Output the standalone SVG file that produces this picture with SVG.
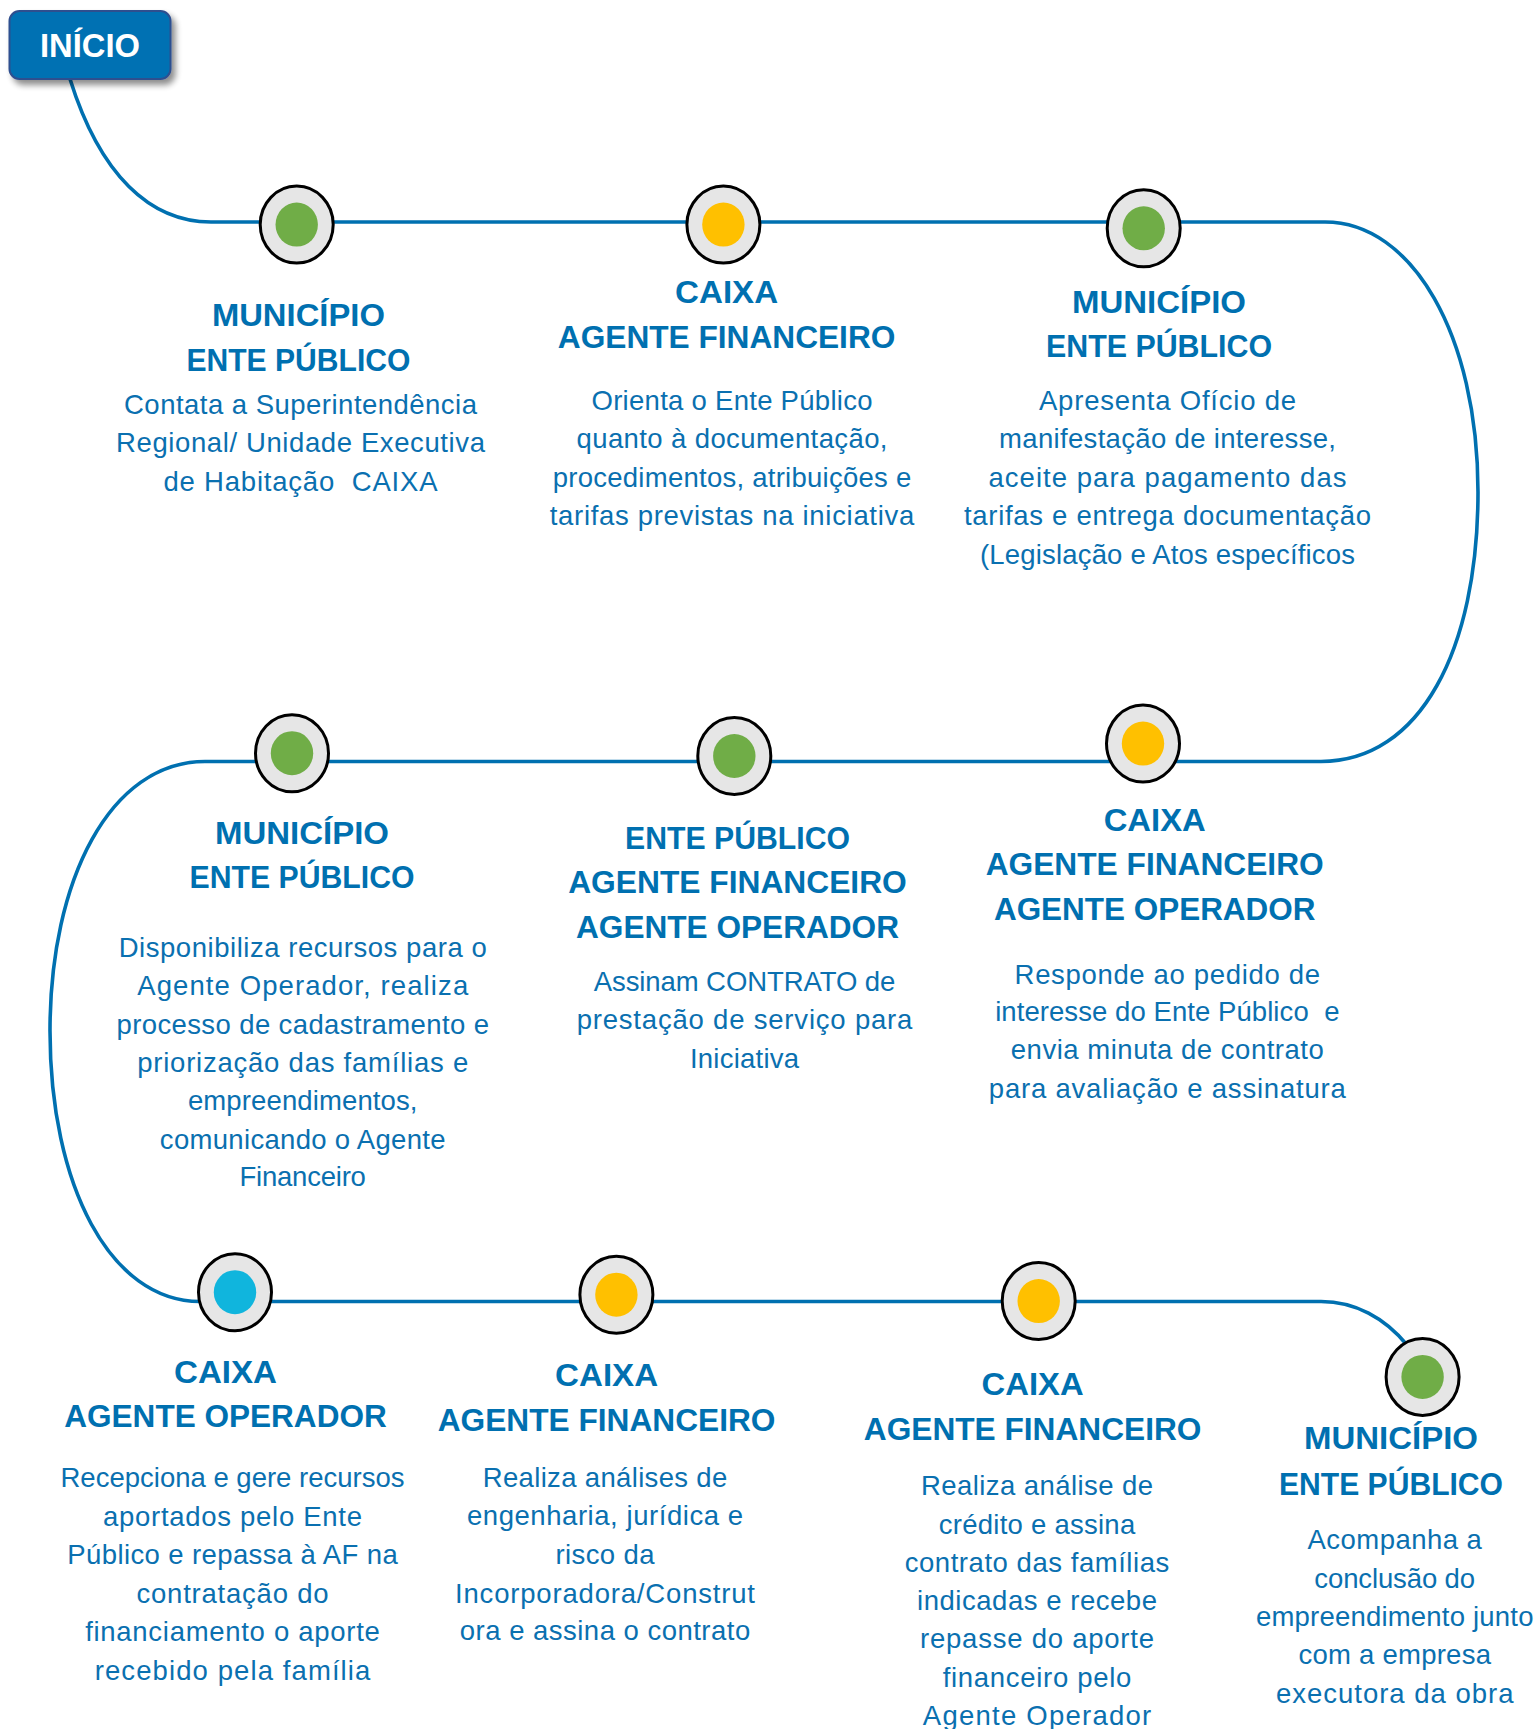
<svg xmlns="http://www.w3.org/2000/svg" width="1538" height="1729" viewBox="0 0 1538 1729">
<defs>
<style>
.h{font-family:"Liberation Sans",Arial,sans-serif;font-weight:bold;font-size:31.5px;fill:#0070b0;text-anchor:middle}
.b{font-family:"Liberation Sans",Arial,sans-serif;font-size:27.5px;fill:#0a70b0;text-anchor:middle}
.ring{fill:#e6e6e6;stroke:#000;stroke-width:3}
.g{fill:#70ad47}.y{fill:#ffc000}.c{fill:#10b5dd}
.conn{fill:none;stroke:#0070b0;stroke-width:3.6}
</style>
<filter id="sh" x="-20%" y="-20%" width="150%" height="160%">
<feGaussianBlur in="SourceAlpha" stdDeviation="3"/>
<feOffset dx="4" dy="5" result="o"/>
<feComponentTransfer><feFuncA type="linear" slope="0.45"/></feComponentTransfer>
<feMerge><feMergeNode/><feMergeNode in="SourceGraphic"/></feMerge>
</filter>
</defs>
<rect width="1538" height="1729" fill="#fff"/>

<g id="connectors">
<path class="conn" d="M70,79 C100,175 150,222 211,222 L1325,222 C1412,222 1478,335 1478,492 C1478,650 1420,761.5 1321,761.5 L205,761.5 C110,761.5 50,880 50,1031 C50,1185 110,1301.5 200,1301.5 L1321,1301.5 C1355,1301.5 1385,1318 1407,1345"/>
</g>

<g id="inicio">
<rect x="9.5" y="11" width="161" height="68" rx="10" fill="#0071b3" stroke="#2f4f8f" stroke-width="2" filter="url(#sh)"/>
<text x="90" y="57.3" font-family="Liberation Sans,Arial,sans-serif" font-weight="bold" font-size="33" fill="#fff" text-anchor="middle" textLength="100" lengthAdjust="spacingAndGlyphs">INÍCIO</text>
</g>

<g id="node1">
<ellipse class="ring" cx="296.7" cy="224.6" rx="36.5" ry="38.5"/>
<ellipse class="g" cx="296.7" cy="224.6" rx="21.2" ry="22"/>
<text class="h" x="298.4" y="325.6" textLength="173" lengthAdjust="spacingAndGlyphs">MUNICÍPIO</text>
<text class="h" x="298.4" y="370.7" textLength="224" lengthAdjust="spacingAndGlyphs">ENTE PÚBLICO</text>
<text class="b" x="300.5" y="413.6" textLength="353">Contata a Superintendência</text>
<text class="b" x="300.5" y="452.1" textLength="369">Regional/ Unidade Executiva</text>
<text class="b" x="300.5" y="491" textLength="274" xml:space="preserve">de Habitação  CAIXA</text>
</g>

<g id="node2">
<ellipse class="ring" cx="723.4" cy="224.6" rx="36.5" ry="38.5"/>
<ellipse class="y" cx="723.4" cy="224.6" rx="21.2" ry="22"/>
<text class="h" x="726.6" y="303.4" textLength="103" lengthAdjust="spacingAndGlyphs">CAIXA</text>
<text class="h" x="726.6" y="347.8" textLength="337.5" lengthAdjust="spacingAndGlyphs">AGENTE FINANCEIRO</text>
<text class="b" x="732" y="410" textLength="281">Orienta o Ente Público</text>
<text class="b" x="732" y="448.4" textLength="311">quanto à documentação,</text>
<text class="b" x="732" y="486.9" textLength="358.5">procedimentos, atribuições e</text>
<text class="b" x="732" y="524.6" textLength="364.4">tarifas previstas na iniciativa</text>
</g>

<g id="node3">
<ellipse class="ring" cx="1143.7" cy="228.3" rx="36.5" ry="38.5"/>
<ellipse class="g" cx="1143.7" cy="228.3" rx="21.2" ry="22"/>
<text class="h" x="1159" y="312.6" textLength="174" lengthAdjust="spacingAndGlyphs">MUNICÍPIO</text>
<text class="h" x="1159" y="357" textLength="226" lengthAdjust="spacingAndGlyphs">ENTE PÚBLICO</text>
<text class="b" x="1167.5" y="410" textLength="257">Apresenta Ofício de</text>
<text class="b" x="1167.5" y="448.4" textLength="337">manifestação de interesse,</text>
<text class="b" x="1167.5" y="486.9" textLength="358">aceite para pagamento das</text>
<text class="b" x="1167.5" y="524.6" textLength="407">tarifas e entrega documentação</text>
<text class="b" x="1167.5" y="563.8" textLength="375">(Legislação e Atos específicos</text>
</g>

<g id="node4">
<ellipse class="ring" cx="292" cy="753.2" rx="36.5" ry="38.5"/>
<ellipse class="g" cx="292" cy="753.2" rx="21.2" ry="22"/>
<text class="h" x="302" y="843.6" textLength="174" lengthAdjust="spacingAndGlyphs">MUNICÍPIO</text>
<text class="h" x="302" y="888.2" textLength="225" lengthAdjust="spacingAndGlyphs">ENTE PÚBLICO</text>
<text class="b" x="302.7" y="956.8" textLength="368">Disponibiliza recursos para o</text>
<text class="b" x="302.7" y="995" textLength="331">Agente Operador, realiza</text>
<text class="b" x="302.7" y="1033.6" textLength="372.5">processo de cadastramento e</text>
<text class="b" x="302.7" y="1071.8" textLength="331">priorização das famílias e</text>
<text class="b" x="302.7" y="1110.4" textLength="229.6">empreendimentos,</text>
<text class="b" x="302.7" y="1148.6" textLength="285.7">comunicando o Agente</text>
<text class="b" x="302.7" y="1186.4" textLength="126.4">Financeiro</text>
</g>

<g id="node5">
<ellipse class="ring" cx="734.3" cy="756" rx="36.5" ry="38.5"/>
<ellipse class="g" cx="734.3" cy="756" rx="21.2" ry="22"/>
<text class="h" x="737.5" y="848.6" textLength="225" lengthAdjust="spacingAndGlyphs">ENTE PÚBLICO</text>
<text class="h" x="737.5" y="893.2" textLength="338.6" lengthAdjust="spacingAndGlyphs">AGENTE FINANCEIRO</text>
<text class="h" x="737.5" y="937.9" textLength="323" lengthAdjust="spacingAndGlyphs">AGENTE OPERADOR</text>
<text class="b" x="744.5" y="990.7" textLength="301.4">Assinam CONTRATO de</text>
<text class="b" x="744.5" y="1029.3" textLength="335.7">prestação de serviço para</text>
<text class="b" x="744.5" y="1067.5" textLength="109">Iniciativa</text>
</g>

<g id="node6">
<ellipse class="ring" cx="1143" cy="743.6" rx="36.5" ry="38.5"/>
<ellipse class="y" cx="1143" cy="743.6" rx="21.2" ry="22"/>
<text class="h" x="1154.7" y="830.7" textLength="102" lengthAdjust="spacingAndGlyphs">CAIXA</text>
<text class="h" x="1154.7" y="875.4" textLength="338" lengthAdjust="spacingAndGlyphs">AGENTE FINANCEIRO</text>
<text class="h" x="1154.7" y="920" textLength="321.5" lengthAdjust="spacingAndGlyphs">AGENTE OPERADOR</text>
<text class="b" x="1167.3" y="983.6" textLength="305.4">Responde ao pedido de</text>
<text class="b" x="1167.3" y="1021" textLength="344.3" xml:space="preserve">interesse do Ente Público  e</text>
<text class="b" x="1167.3" y="1059.3" textLength="313">envia minuta de contrato</text>
<text class="b" x="1167.3" y="1097.9" textLength="357">para avaliação e assinatura</text>
</g>

<g id="node7">
<ellipse class="ring" cx="235" cy="1292.2" rx="36.5" ry="38.5"/>
<ellipse class="c" cx="235" cy="1292.2" rx="21.2" ry="22"/>
<text class="h" x="225.5" y="1383.3" textLength="103" lengthAdjust="spacingAndGlyphs">CAIXA</text>
<text class="h" x="225.5" y="1426.9" textLength="322.5" lengthAdjust="spacingAndGlyphs">AGENTE OPERADOR</text>
<text class="b" x="232.5" y="1486.9" textLength="344">Recepciona e gere recursos</text>
<text class="b" x="232.5" y="1526.1" textLength="259">aportados pelo Ente</text>
<text class="b" x="232.5" y="1563.6" textLength="330.4">Público e repassa à AF na</text>
<text class="b" x="232.5" y="1602.9" textLength="192">contratação do</text>
<text class="b" x="232.5" y="1641.1" textLength="294.6">financiamento o aporte</text>
<text class="b" x="232.5" y="1679.7" textLength="275.7">recebido pela família</text>
</g>

<g id="node8">
<ellipse class="ring" cx="616.4" cy="1294.7" rx="36.5" ry="38.5"/>
<ellipse class="y" cx="616.4" cy="1294.7" rx="21.2" ry="22"/>
<text class="h" x="606.6" y="1386.1" textLength="103" lengthAdjust="spacingAndGlyphs">CAIXA</text>
<text class="h" x="606.6" y="1430.8" textLength="337.8" lengthAdjust="spacingAndGlyphs">AGENTE FINANCEIRO</text>
<text class="b" x="605" y="1486.9" textLength="244.6">Realiza análises de</text>
<text class="b" x="605" y="1525.4" textLength="276">engenharia, jurídica e</text>
<text class="b" x="605" y="1563.6" textLength="99">risco da</text>
<text class="b" x="605" y="1602.9" textLength="300">Incorporadora/Construt</text>
<text class="b" x="605" y="1640.4" textLength="290.4">ora e assina o contrato</text>
</g>

<g id="node9">
<ellipse class="ring" cx="1038.7" cy="1301.1" rx="36.5" ry="38.5"/>
<ellipse class="y" cx="1038.7" cy="1301.1" rx="21.2" ry="22"/>
<text class="h" x="1032.6" y="1395" textLength="102" lengthAdjust="spacingAndGlyphs">CAIXA</text>
<text class="h" x="1032.6" y="1440.4" textLength="337.6" lengthAdjust="spacingAndGlyphs">AGENTE FINANCEIRO</text>
<text class="b" x="1037" y="1494.7" textLength="232">Realiza análise de</text>
<text class="b" x="1037" y="1534" textLength="196.4">crédito e assina</text>
<text class="b" x="1037" y="1571.9" textLength="264.5">contrato das famílias</text>
<text class="b" x="1037" y="1610.1" textLength="240">indicadas e recebe</text>
<text class="b" x="1037" y="1648.3" textLength="234">repasse do aporte</text>
<text class="b" x="1037" y="1686.9" textLength="188.6">financeiro pelo</text>
<text class="b" x="1037" y="1725.1" textLength="228.4">Agente Operador</text>
</g>

<g id="node10">
<ellipse class="ring" cx="1422.6" cy="1376.9" rx="36.5" ry="38.5"/>
<ellipse class="g" cx="1422.6" cy="1376.9" rx="21.2" ry="22"/>
<text class="h" x="1391" y="1449.4" textLength="174" lengthAdjust="spacingAndGlyphs">MUNICÍPIO</text>
<text class="h" x="1391" y="1494.7" textLength="224" lengthAdjust="spacingAndGlyphs">ENTE PÚBLICO</text>
<text class="b" x="1394.7" y="1549.4" textLength="174.3">Acompanha a</text>
<text class="b" x="1394.7" y="1587.6" textLength="160.7">conclusão do</text>
<text class="b" x="1394.7" y="1626.1" textLength="277.5">empreendimento junto</text>
<text class="b" x="1394.7" y="1664.4" textLength="192.5">com a empresa</text>
<text class="b" x="1394.7" y="1702.9" textLength="237.5">executora da obra</text>
</g>
</svg>
